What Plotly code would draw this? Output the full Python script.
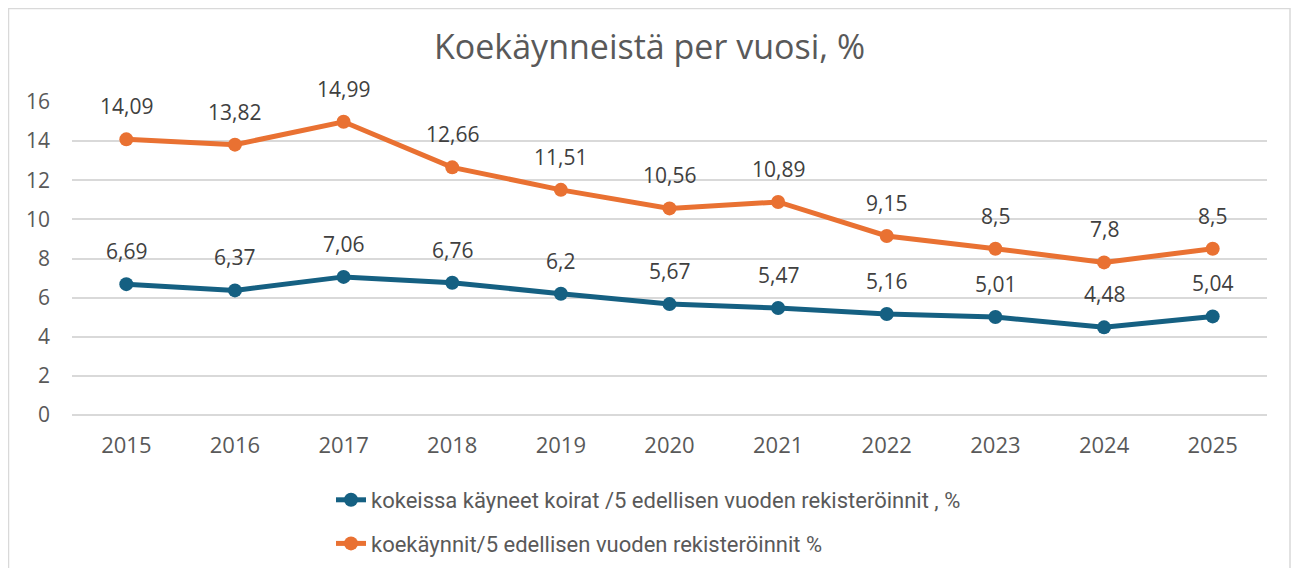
import plotly.graph_objects as go

years = ["2015", "2016", "2017", "2018", "2019", "2020", "2021", "2022", "2023", "2024", "2025"]
koirat = [6.69, 6.37, 7.06, 6.76, 6.2, 5.67, 5.47, 5.16, 5.01, 4.48, 5.04]
kaynnit = [14.09, 13.82, 14.99, 12.66, 11.51, 10.56, 10.89, 9.15, 8.5, 7.8, 8.5]
name_koirat = "kokeissa käyneet koirat /5 edellisen vuoden rekisteröinnit , %"
name_kaynnit = "koekäynnit/5 edellisen vuoden rekisteröinnit %"
title = "Koekäynneistä per vuosi, %"

BLUE = "#156082"
ORANGE = "#E97132"
GRAY = "#595959"
FONT = "Open Sans, Roboto, sans-serif"

# page body has an 8px margin on each side: figure coordinates = screen - 8
W, H = 1283, 560
L, R, T, B = 64, 24, 94, 153

fig = go.Figure()
fig.add_trace(go.Scatter(x=years, y=koirat, name=name_koirat, mode="lines+markers",
                         line=dict(color=BLUE, width=5), marker=dict(size=14, color=BLUE),
                         legendgroup="a"))
fig.add_trace(go.Scatter(x=years, y=kaynnit, name=name_kaynnit, mode="lines+markers",
                         line=dict(color=ORANGE, width=5), marker=dict(size=14, color=ORANGE),
                         legendgroup="b"))

def fmt(v):
    return ("%g" % v).replace(".", ",")

annotations = []
for series in (koirat, kaynnit):
    for i, v in enumerate(series):
        annotations.append(dict(x=i, y=v, xref="x", yref="y", text=fmt(v), showarrow=False,
                                yshift=33, font=dict(size=21, color="#404040", family=FONT)))

pw = W - L - R
ph = H - T - B
def px_x(p):
    return (p - L) / pw
def px_y(p):
    return (H - B - p) / ph

bx0, bx1 = px_x(0.5), px_x(W - 1)
by_top, by_bot = px_y(0.5), px_y(H + 20)
border_path = f"M {bx0},{by_bot} L {bx0},{by_top} L {bx1},{by_top} L {bx1},{by_bot}"

fig.update_layout(
    width=W, height=H,
    margin=dict(l=L, r=R, t=T, b=B, autoexpand=False),
    paper_bgcolor="white", plot_bgcolor="white",
    title=dict(text=title, x=0.5, xanchor="center", y=1 - 39 / H, yanchor="middle",
               font=dict(size=34, color=GRAY, family=FONT)),
    font=dict(family=FONT, color=GRAY),
    xaxis=dict(type="category", range=[-0.5, len(years) - 0.5], autorange=False,
               showgrid=False, showline=False, ticks="", automargin=False,
               tickfont=dict(size=22, color=GRAY), ticklabelstandoff=15),
    yaxis=dict(range=[0, 16], dtick=2, showgrid=True, gridcolor="#D9D9D9", gridwidth=1.5,
               zeroline=True, zerolinecolor="#D9D9D9", zerolinewidth=1.5, showline=False,
               automargin=False,
               tickfont=dict(size=21, color=GRAY), ticklabelstandoff=21),
    legend=dict(x=px_x(323), y=px_y(471), xanchor="left", yanchor="top",
                orientation="v", tracegroupgap=12,
                font=dict(size=22, color=GRAY, family="Roboto, sans-serif"),
                bgcolor="rgba(0,0,0,0)"),
    annotations=annotations,
    shapes=[dict(type="path", xref="paper", yref="paper", path=border_path,
                 line=dict(color="#D9D9D9", width=1.5), layer="below")],
)

fig.write_html("out.html")
